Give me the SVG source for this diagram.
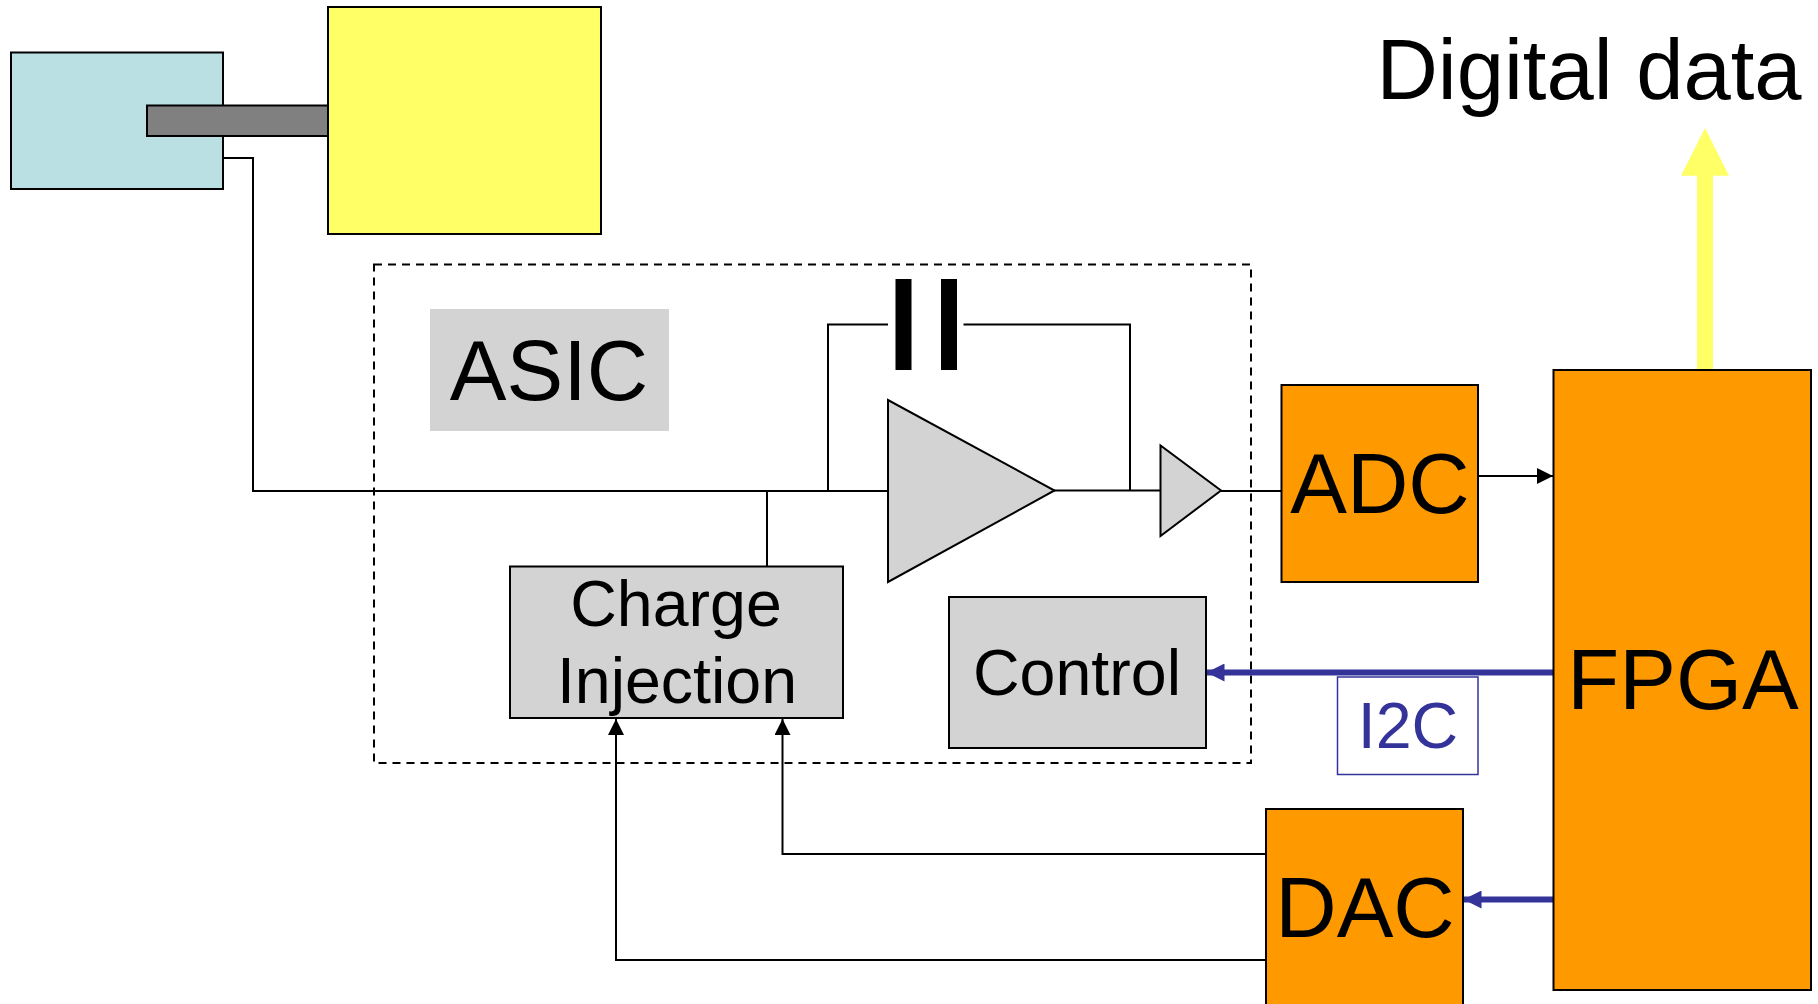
<svg xmlns="http://www.w3.org/2000/svg" width="1818" height="1004" viewBox="0 0 1818 1004">
<style>
text{font-family:"Liberation Sans",Arial,sans-serif;fill:#000;text-anchor:middle}
.big{font-size:85px}
.mid{font-size:64.5px}
.box{stroke:#000;stroke-width:2}
.or{fill:#FF9900}
.gr{fill:#D3D3D3}
.w{fill:none;stroke:#000;stroke-width:2}
.b{fill:none;stroke:#333399;stroke-width:6}
</style>
<defs>
<marker id="ak" markerUnits="userSpaceOnUse" markerWidth="16" markerHeight="16" refX="16" refY="8" orient="auto"><path d="M0 0L16 8L0 16Z" fill="#000"/></marker>
<marker id="ab" markerUnits="userSpaceOnUse" markerWidth="18" markerHeight="18" refX="18" refY="9" orient="auto"><path d="M0 0L18 9L0 18Z" fill="#333399"/></marker>
</defs>
<rect width="1818" height="1004" fill="#fff"/>
<g id="asic-boundary"><rect x="374" y="264.5" width="877" height="498.5" fill="none" stroke="#000" stroke-width="2" stroke-dasharray="8 6"/></g>
<g id="sensor"><rect class="box" x="11" y="52.5" width="212" height="136.5" fill="#BBE0E3"/></g>
<g id="connectors">
<path class="w" d="M223 158H253V491H888"/>
<path class="w" d="M767 491V566"/>
<path class="w" d="M828 491V324.5H888"/>
<path class="w" d="M963.5 324.5H1130V491"/>
<path class="w" d="M1054 490.5H1160.5"/>
<path class="w" d="M1221 491H1281"/>
<path class="w" d="M1478 476H1553" marker-end="url(#ak)"/>
<path class="w" d="M1266 854H782.5V719" marker-end="url(#ak)"/>
<path class="w" d="M1266 960H616V719" marker-end="url(#ak)"/>
<path class="b" d="M1553 672.5H1206.5" marker-end="url(#ab)"/>
<path class="b" d="M1553 899.5H1463.5" marker-end="url(#ab)"/>
<path d="M1697 370V175.7H1681L1705 128L1729 175.7H1713V370Z" fill="#FFFF66"/>
</g>
<g id="bar"><rect class="box" x="147" y="105.5" width="181" height="30.5" fill="#808080"/></g>
<g id="yellow-block"><rect class="box" x="328" y="7" width="273" height="227" fill="#FFFF66"/></g>
<g id="asic-label"><rect x="430" y="309" width="239" height="122" fill="#D3D3D3"/><text class="big" x="549" y="400">ASIC</text></g>
<g id="capacitor"><rect x="895.5" y="279" width="16" height="91" fill="#000"/><rect x="941" y="279" width="16" height="91" fill="#000"/></g>
<g id="amplifier"><polygon class="box gr" points="888,400 888,582 1054.5,490.5"/></g>
<g id="buffer"><polygon class="box gr" points="1160.5,445.5 1160.5,536 1221,490.5"/></g>
<g id="charge-injection"><rect class="box gr" x="510" y="566.5" width="333" height="151.5"/><text class="mid" x="676" y="626">Charge</text><text class="mid" x="677" y="703">Injection</text></g>
<g id="control"><rect class="box gr" x="949" y="597" width="257" height="151"/><text class="mid" x="1077" y="695">Control</text></g>
<g id="adc"><rect class="box or" x="1281.5" y="385" width="196.5" height="197"/><text class="big" x="1380" y="513">ADC</text></g>
<g id="dac"><rect class="box or" x="1266" y="809" width="197" height="200"/><text class="big" x="1365" y="937">DAC</text></g>
<g id="fpga"><rect class="box or" x="1553.5" y="370" width="257.5" height="620"/><text class="big" x="1683" y="709">FPGA</text></g>
<g id="i2c"><rect x="1337.5" y="677" width="140.5" height="97.5" fill="#fff" stroke="#333399" stroke-width="1.5"/><text class="mid" x="1408" y="748" style="fill:#333399">I2C</text></g>
<g id="digital-data"><text class="big" x="1589" y="99">Digital data</text></g>
</svg>
